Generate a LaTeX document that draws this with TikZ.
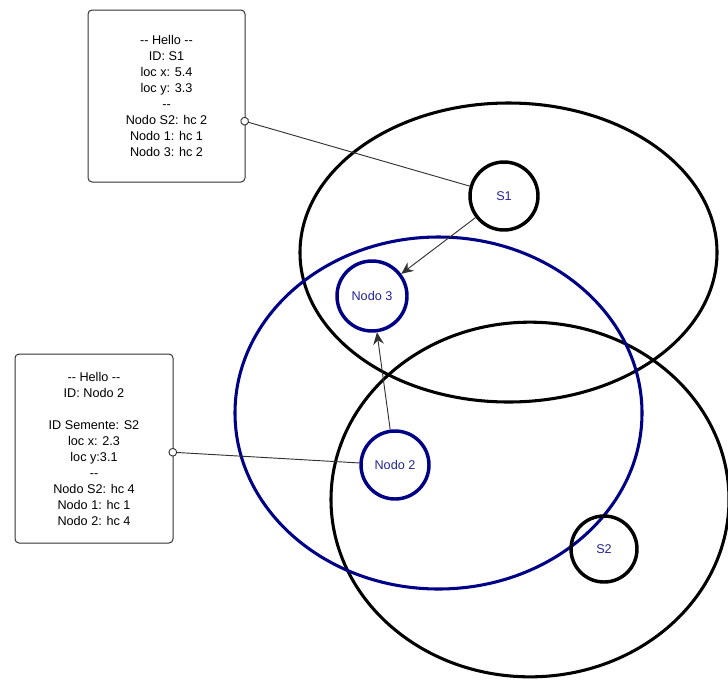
\documentclass[tikz,border=0pt]{standalone}
\usepackage{fontspec}
\setmainfont{Liberation Sans}
\usepackage{tikz}
\usetikzlibrary{shapes,arrows.meta,positioning,calc}
\definecolor{rangeblue}{RGB}{0,0,135}
\definecolor{labelblue}{RGB}{35,35,150}
\definecolor{wire}{RGB}{50,50,50}
\tikzset{
infobox/.style = {draw=wire, line width=0.75pt, fill=white, rectangle, rounded corners=3pt, align=center, font=\fontsize{9.5}{12}\selectfont},
coverage/.style = {draw, ellipse, line width=2.3pt, inner sep=0pt},
station/.style = {draw, circle, line width=2.6pt, inner sep=0pt, text=labelblue, font=\fontsize{9.5}{11}\selectfont},
pinpt/.style = {coordinate},
wireline/.style = {draw=wire, line width=0.7pt}
}

\begin{document}
\begin{tikzpicture}[x=0.75pt, y=-0.75pt]
					\useasboundingbox (0,0) rectangle (728,679);
					% coverage areas
					\node[coverage, minimum width=312.75pt, minimum height=224.25pt] (covS1) at (508.5,252.5) {};
					\node[coverage, minimum width=298.5pt, minimum height=266pt] (covS2) at (530,499.5) {};
					\node[coverage, draw=rangeblue, minimum width=305.25pt, minimum height=264pt] (covN2) at (438.5,413) {};
					% nodes
					\node[station, minimum size=51pt] (s1) at (504,196) {S1};
					\node[station, draw=rangeblue, minimum size=52.5pt] (n3) at (372,296) {Nodo 3};
					\node[station, draw=rangeblue, minimum size=51pt] (n2) at (395,465) {Nodo 2};
					\node[station, minimum size=49.5pt] (s2) at (604,549) {S2};
					% info boxes
					\node[infobox, minimum width=117.75pt, minimum height=129pt] (info1) at (166.5,96) {-{}- Hello -{}-\\ID: S1\\loc x: 5.4\\loc y: 3.3\\-{}-\\Nodo S2: hc 2\\Nodo 1: hc 1\\Nodo 3: hc 2};
					\node[infobox, minimum width=118.5pt, minimum height=141.75pt] (info2) at (94,448.5) {-{}- Hello -{}-\\ID: Nodo 2\\ \\ID Semente: S2\\loc x: 2.3\\loc y:3.1\\-{}-\\Nodo S2: hc 4\\Nodo 1: hc 1\\Nodo 2: hc 4};
					\node[pinpt] (pin1) at (240.5,120) {};
					\node[pinpt] (pin2) at (168.5,452) {};
					% links
					\draw[wireline, {Circle[open,length=6.5pt,fill=white]}-] (pin1) -- (s1);
					\draw[wireline, {Circle[open,length=6.5pt,fill=white]}-] (pin2) -- (n2);
					\draw[wireline, -{Stealth[length=9pt,width=8pt,inset=3pt]}] (s1) -- (n3);
					\draw[wireline, -{Stealth[length=9pt,width=8pt,inset=3pt]}] (n2) -- (n3);
\end{tikzpicture}
\end{document}
